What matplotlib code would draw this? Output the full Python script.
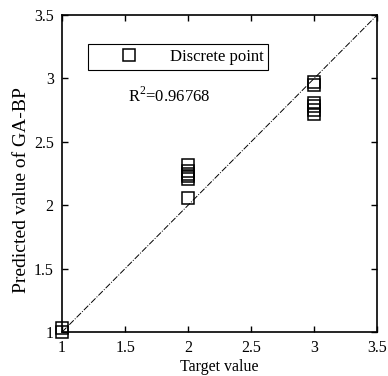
import matplotlib
matplotlib.use("Agg")
import matplotlib.pyplot as plt

plt.rcParams['font.family'] = ['Liberation Serif', 'DejaVu Serif']
plt.rcParams['mathtext.fontset'] = 'custom'
plt.rcParams['mathtext.rm'] = 'Liberation Serif'

target_1 = [1.0, 1.0]
pred_1 = [1.0, 1.03]
target_2 = [2.0, 2.0, 2.0, 2.0, 2.0, 2.0]
pred_2 = [2.32, 2.27, 2.25, 2.23, 2.21, 2.06]
target_3 = [3.0, 3.0, 3.0, 3.0, 3.0, 3.0]
pred_3 = [2.97, 2.95, 2.81, 2.78, 2.75, 2.72]
diag = [1.0, 3.5]
ticks = [1, 1.5, 2, 2.5, 3, 3.5]
tick_labels = ['1', '1.5', '2', '2.5', '3', '3.5']
r2_text = 'R$^2$=0.96768'

fig = plt.figure(figsize=(3.88, 3.76), dpi=100)
ax = fig.add_axes([0.160, 0.117, 0.812, 0.843])

x_all = target_1 + target_2 + target_3
y_all = pred_1 + pred_2 + pred_3
ax.plot(x_all, y_all, linestyle='none', marker='s', markersize=8.5,
        markerfacecolor='none', markeredgecolor='black', markeredgewidth=1.1,
        clip_on=False, label='Discrete point', zorder=3)
ax.plot(diag, diag, color='black', linestyle='-.', linewidth=0.7, zorder=2)

ax.set_xlim(1, 3.5)
ax.set_ylim(1, 3.5)
ax.set_xticks(ticks)
ax.set_xticklabels(tick_labels)
ax.set_yticks(ticks)
ax.set_yticklabels(tick_labels)
ax.tick_params(direction='in', top=True, right=True, labelsize=11.5, length=4, width=1)
ax.tick_params(axis='x', pad=6)
ax.tick_params(axis='y', pad=6)
for s in ax.spines.values():
    s.set_linewidth(1.2)

ax.set_xlabel('Target value', fontsize=11.5, va='bottom')
ax.xaxis.set_label_coords(0.5, -0.137)
ax.set_ylabel('Predicted value of GA-BP', fontsize=14, va='top')
ax.yaxis.set_label_coords(-0.157, 0.448)

leg = ax.legend(loc='upper left', bbox_to_anchor=(0.0825, 0.9085), fontsize=12,
                frameon=True, fancybox=False, edgecolor='black', framealpha=1,
                handlelength=4.3, handletextpad=0.3, borderpad=0.3,
                borderaxespad=0)
leg.get_frame().set_linewidth(0.8)

ax.text(1.524, 2.861, r2_text, fontsize=12, va='center', ha='left')

fig.savefig('out.png', dpi=100)
